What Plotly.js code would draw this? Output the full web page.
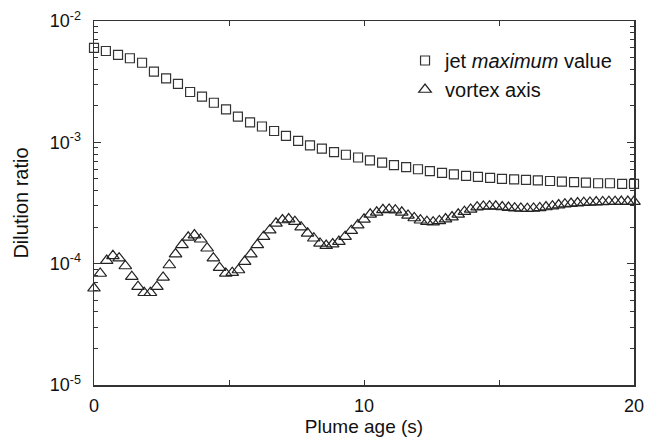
<!DOCTYPE html>
<html>
<head>
<meta charset="utf-8">
<script src="https://cdn.plot.ly/plotly-3.0.1.min.js"></script>
<style>html,body{margin:0;padding:0;background:#fff;}#chart{width:648px;height:439px;}</style>
</head>
<body>
<div id="chart"></div>
<script>
// Plume age (s) for the jet maximum value samples
var jetTime = [0.00,0.44,0.89,1.33,1.78,2.22,2.67,3.11,3.56,4.00,4.44,4.89,5.33,5.78,6.22,6.67,7.11,7.56,8.00,8.44,
  8.89,9.33,9.78,10.22,10.67,11.11,11.56,12.00,12.44,12.89,13.33,13.78,14.22,14.67,15.11,15.56,16.00,16.44,16.89,17.33,
  17.78,18.22,18.67,19.11,19.56,20.00];
// Dilution ratio, jet maximum value
var jetMax = [6.0e-3,5.66e-3,5.25e-3,4.93e-3,4.53e-3,3.82e-3,3.37e-3,3.03e-3,2.60e-3,2.38e-3,2.12e-3,1.87e-3,1.63e-3,1.46e-3,1.35e-3,1.24e-3,1.13e-3,1.03e-3,9.45e-4,8.86e-4,
  8.3e-4,7.9e-4,7.5e-4,7.1e-4,6.8e-4,6.5e-4,6.25e-4,6.0e-4,5.8e-4,5.6e-4,5.45e-4,5.3e-4,5.2e-4,5.1e-4,5.0e-4,4.95e-4,4.9e-4,4.85e-4,4.8e-4,4.75e-4,
  4.7e-4,4.65e-4,4.6e-4,4.6e-4,4.55e-4,4.55e-4];

// Plume age (s) for the vortex axis samples
var vortexTime = [0.00,0.23,0.47,0.70,0.93,1.16,1.40,1.63,1.86,2.09,2.33,2.56,2.79,3.02,3.26,3.49,3.72,3.95,4.19,4.42,
  4.65,4.88,5.12,5.35,5.58,5.81,6.05,6.28,6.51,6.74,6.98,7.21,7.44,7.67,7.91,8.14,8.37,8.60,8.84,9.07,
  9.30,9.53,9.77,10.00,10.23,10.47,10.70,10.93,11.16,11.40,11.63,11.86,12.09,12.33,12.56,12.79,13.02,13.26,13.49,13.72,
  13.95,14.19,14.42,14.65,14.88,15.12,15.35,15.58,15.81,16.05,16.28,16.51,16.74,16.98,17.21,17.44,17.67,17.91,18.14,18.37,
  18.60,18.84,19.07,19.30,19.53,19.77,20.00];
// Dilution ratio, vortex axis
var vortexAxis = [6.27e-5,8.3e-5,1.06e-4,1.16e-4,1.11e-4,9.57e-5,7.82e-5,6.46e-5,5.76e-5,5.76e-5,6.46e-5,7.71e-5,9.75e-5,1.20e-4,1.43e-4,1.65e-4,1.72e-4,1.59e-4,1.34e-4,1.11e-4,
  9.27e-5,8.32e-5,8.43e-5,8.87e-5,1.04e-4,1.20e-4,1.43e-4,1.67e-4,1.89e-4,2.15e-4,2.29e-4,2.33e-4,2.22e-4,2.00e-4,1.78e-4,1.62e-4,1.47e-4,1.41e-4,1.45e-4,1.52e-4,
  1.67e-4,1.87e-4,2.08e-4,2.32e-4,2.55e-4,2.65e-4,2.78e-4,2.80e-4,2.76e-4,2.65e-4,2.50e-4,2.38e-4,2.28e-4,2.22e-4,2.20e-4,2.25e-4,2.33e-4,2.42e-4,2.55e-4,2.68e-4,
  2.80e-4,2.92e-4,2.96e-4,2.98e-4,2.97e-4,2.93e-4,2.90e-4,2.87e-4,2.85e-4,2.84e-4,2.85e-4,2.88e-4,2.93e-4,2.98e-4,3.04e-4,3.09e-4,3.13e-4,3.16e-4,3.18e-4,3.20e-4,
  3.22e-4,3.23e-4,3.24e-4,3.24e-4,3.25e-4,3.25e-4,3.25e-4];

var yTickVals = [1e-5, 1e-4, 1e-3, 1e-2];
var yTickText = ['10<sup>-5</sup>', '10<sup>-4</sup>', '10<sup>-3</sup>', '10<sup>-2</sup>'];
var xTickVals = [0, 5, 10, 15, 20];
var xTickText = ['0', '', '10', '', '20'];

var yMinor = [];
for (var d = -5; d < -2; d++) {
  for (var m = 2; m <= 9; m++) yMinor.push(m * Math.pow(10, d));
}

var FONT = 'Liberation Sans, Arial, Helvetica, sans-serif';

var traces = [
  {
    x: jetTime, y: jetMax, mode: 'markers', type: 'scatter',
    name: 'jet <i>maximum</i> value',
    marker: {symbol: 'square-open', size: 9, color: '#333', line: {width: 1.2}},
    cliponaxis: false
  },
  {
    x: vortexTime, y: vortexAxis, mode: 'markers', type: 'scatter',
    name: 'vortex axis',
    marker: {symbol: 'triangle-up-open', size: 11, color: '#222', line: {width: 1.2}},
    cliponaxis: false
  }
];

var layout = {
  width: 648, height: 439,
  margin: {l: 94, r: 14, t: 21, b: 54},
  paper_bgcolor: '#fff', plot_bgcolor: '#fff',
  font: {family: FONT, color: '#111', size: 18},
  showlegend: true,
  legend: {
    x: 0.576, y: 0.945, xanchor: 'left', yanchor: 'top',
    bgcolor: 'rgba(0,0,0,0)', borderwidth: 0,
    font: {family: FONT, size: 20, color: '#111'},
    itemwidth: 30, tracegroupgap: 0
  },
  xaxis: {
    range: [0, 20], showgrid: false, zeroline: false,
    tickmode: 'array', tickvals: xTickVals, ticktext: xTickText,
    ticks: 'inside', ticklen: 5, tickwidth: 1, tickcolor: '#333',
    showline: true, linecolor: '#333', linewidth: 1.5, mirror: 'allticks',
    tickfont: {family: FONT, size: 18, color: '#111'},
    ticklabelstandoff: 4,
    title: {text: 'Plume age (s)', font: {family: FONT, size: 19, color: '#111'}, standoff: 4}
  },
  yaxis: {
    type: 'log', range: [-5, -2], showgrid: false, zeroline: false,
    tickmode: 'array', tickvals: yTickVals, ticktext: yTickText,
    ticks: 'inside', ticklen: 7, tickwidth: 1, tickcolor: '#333',
    minor: {tickmode: 'array', tickvals: yMinor, ticks: 'inside', ticklen: 4, tickcolor: '#333', showgrid: false},
    showline: true, linecolor: '#333', linewidth: 1.5, mirror: 'allticks',
    tickfont: {family: FONT, size: 18, color: '#111'},
    ticklabelstandoff: 8,
    title: {text: 'Dilution ratio', font: {family: FONT, size: 20, color: '#111'}, standoff: 15}
  }
};

Plotly.newPlot('chart', traces, layout, {displayModeBar: false, staticPlot: true});
</script>
</body>
</html>
